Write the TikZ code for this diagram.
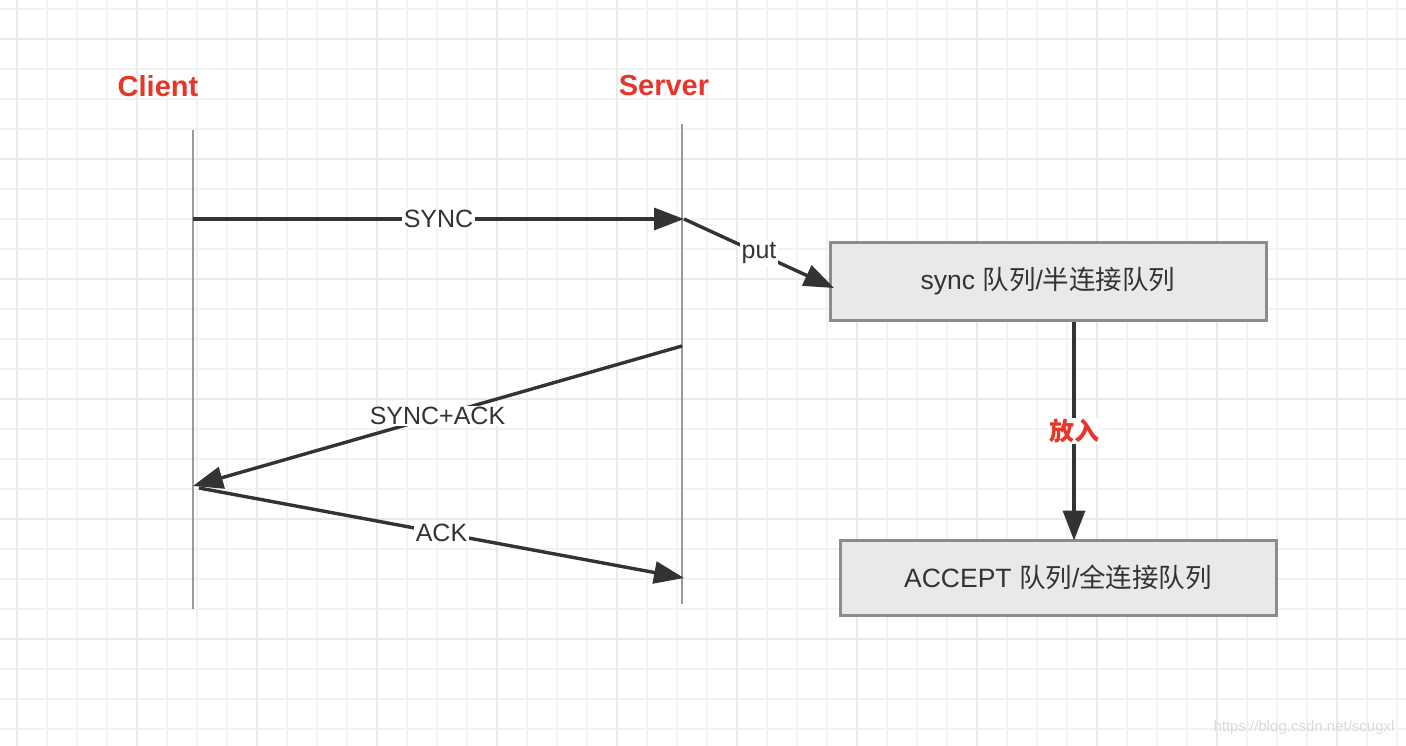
\documentclass[tikz,border=0pt]{standalone}
\usepackage{fontspec}
\setmainfont{Liberation Sans}
\newfontfamily\cjk{Noto Sans CJK SC}
\usetikzlibrary{arrows.meta,positioning}

\definecolor{gridminor}{HTML}{F2F2F2}
\definecolor{gridmajor}{HTML}{E9E9E9}
\definecolor{lifegray}{HTML}{9A9A9A}
\definecolor{inkdark}{HTML}{333333}
\definecolor{hostred}{HTML}{E8352A}
\definecolor{boxfill}{HTML}{E9E9E9}
\definecolor{boxline}{HTML}{8C8C8C}
\definecolor{markgray}{HTML}{DADADA}

\tikzset{
  host/.style={text=hostred,font=\fontsize{29}{34}\selectfont\bfseries},
  lifeline/.style={draw=lifegray,line width=2pt},
  msg/.style={draw=inkdark,line width=3.4pt,->},
  msglabel/.style={fill=white,text=inkdark,inner sep=1.5pt,font=\fontsize{25}{30}\selectfont},
  queuebox/.style={draw=boxline,fill=boxfill,line width=3pt,minimum width=436pt,
    text=inkdark,font=\fontsize{26.5}{30}\selectfont},
}

\begin{document}
\begin{tikzpicture}[x=1pt,y=-1pt,>={Triangle[length=30pt,width=22pt]}]
\useasboundingbox (0,0) rectangle (1406,746);

% background grid
\foreach \gx in {17,47,...,1406}
  \draw[gridminor,line width=2pt] (\gx,0) -- (\gx,746);
\foreach \gy in {9,39,...,746}
  \draw[gridminor,line width=2pt] (0,\gy) -- (1406,\gy);
\foreach \gx in {17,137,...,1406}
  \draw[gridmajor,line width=2.5pt] (\gx,0) -- (\gx,746);
\foreach \gy in {39,159,...,746}
  \draw[gridmajor,line width=2.5pt] (0,\gy) -- (1406,\gy);

% hosts and lifelines
\node[host] (client) at (158,86) {Client};
\node[host] (server) at (664,86) {Server};
\coordinate (ctop) at (193,130);
\coordinate (cbot) at (193,609);
\coordinate (stop) at (682,124);
\coordinate (sbot) at (682,604);
\draw[lifeline] (ctop) -- (cbot);
\draw[lifeline] (stop) -- (sbot);

% message points
\coordinate (c1) at (193,219);
\coordinate (s1) at (684,219);
\coordinate (s2) at (682,346);
\coordinate (c2) at (193,486);
\coordinate (c3) at (199,488);
\coordinate (s3) at (684,578);

% queues
\node[queuebox,minimum height=77pt] (halfq) at (1048,281.5)
  {sync {\cjk 队列}/{\cjk 半连接队列}};
\node[queuebox,minimum height=75pt] (fullq) at (1058,577.5)
  {ACCEPT {\cjk 队列}/{\cjk 全连接队列}};
\coordinate (putend) at (834,288);
\coordinate (dropx) at (1074,0);

% messages
\draw[msg] (c1) -- node[msglabel] {SYNC} (s1);
\draw[msg] (s1) -- node[msglabel,pos=0.5] {put} (putend);
\draw[msg] (s2) -- node[msglabel,pos=0.5] {SYNC+ACK} (c2);
\draw[msg] (c3) -- node[msglabel,pos=0.5] {ACK} (s3);
\draw[msg] (halfq.south -| dropx) -- node[msglabel,text=hostred,font=\cjk\fontsize{25}{30}\selectfont\bfseries] {放入} ([yshift=-2pt]fullq.north -| dropx);

% watermark
\node[text=markgray,font=\fontsize{15}{18}\selectfont,anchor=east] (mark) at (1398,728) {https://blog.csdn.net/scugxl};
\end{tikzpicture}
\end{document}
